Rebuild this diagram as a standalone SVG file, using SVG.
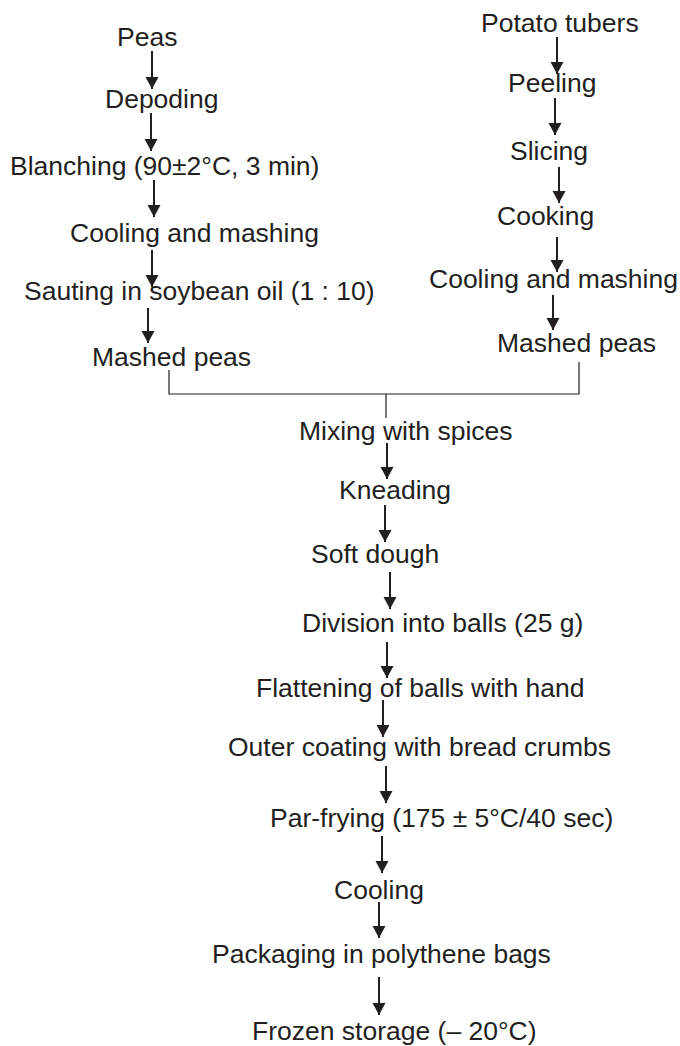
<svg xmlns="http://www.w3.org/2000/svg" width="680" height="1046" viewBox="0 0 680 1046">
<style>
text{font-family:"Liberation Sans",Arial,sans-serif;font-size:26.5px;fill:#231f20}
.a{stroke:#231f20;stroke-width:2;fill:none}
.b{stroke:#231f20;stroke-width:1.2;fill:none}
</style>
<defs>
<marker id="ah" markerUnits="userSpaceOnUse" markerWidth="14" markerHeight="14" refX="12" refY="6.5" orient="auto">
<path d="M0,0 L12,6.5 L0,13 z" fill="#231f20"/>
</marker>
</defs>
<rect width="680" height="1046" fill="#fff"/>
<g id="connectors">
<line class="a" x1="152" y1="51" x2="152" y2="89" marker-end="url(#ah)"/>
<line class="a" x1="151" y1="113" x2="151" y2="151" marker-end="url(#ah)"/>
<line class="a" x1="154" y1="180" x2="154" y2="217" marker-end="url(#ah)"/>
<line class="a" x1="152" y1="250" x2="152" y2="287" marker-end="url(#ah)"/>
<line class="a" x1="148" y1="308" x2="148" y2="343" marker-end="url(#ah)"/>
<line class="a" x1="557" y1="37" x2="557" y2="74" marker-end="url(#ah)"/>
<line class="a" x1="555" y1="98" x2="555" y2="135" marker-end="url(#ah)"/>
<line class="a" x1="559" y1="167" x2="559" y2="203" marker-end="url(#ah)"/>
<line class="a" x1="557" y1="237" x2="557" y2="272" marker-end="url(#ah)"/>
<line class="a" x1="553" y1="295" x2="553" y2="330" marker-end="url(#ah)"/>
<polyline class="b" points="169,370 169,394 579,394 579,362"/>
<line class="b" x1="386" y1="394" x2="386" y2="418"/>
<line class="a" x1="387" y1="443" x2="387" y2="479" marker-end="url(#ah)"/>
<line class="a" x1="385" y1="505" x2="385" y2="542" marker-end="url(#ah)"/>
<line class="a" x1="390" y1="572" x2="390" y2="609" marker-end="url(#ah)"/>
<line class="a" x1="387" y1="642" x2="387" y2="678" marker-end="url(#ah)"/>
<line class="a" x1="383" y1="700" x2="383" y2="737" marker-end="url(#ah)"/>
<line class="a" x1="386" y1="766" x2="386" y2="803" marker-end="url(#ah)"/>
<line class="a" x1="382" y1="836" x2="382" y2="873" marker-end="url(#ah)"/>
<line class="a" x1="379" y1="902" x2="379" y2="938" marker-end="url(#ah)"/>
<line class="a" x1="379" y1="977" x2="379" y2="1015" marker-end="url(#ah)"/>
</g>
<g id="peas"><text x="117" y="46">Peas</text></g>
<g id="depoding"><text x="105" y="108">Depoding</text></g>
<g id="blanching"><text x="10" y="175">Blanching (90±2°C, 3 min)</text></g>
<g id="cooling-mashing-left"><text x="70" y="242">Cooling and mashing</text></g>
<g id="sauting"><text x="24" y="300">Sauting in soybean oil (1 : 10)</text></g>
<g id="mashed-peas-left"><text x="92" y="366">Mashed peas</text></g>
<g id="potato"><text x="481" y="32">Potato tubers</text></g>
<g id="peeling"><text x="508" y="92">Peeling</text></g>
<g id="slicing"><text x="510" y="160">Slicing</text></g>
<g id="cooking"><text x="497" y="225">Cooking</text></g>
<g id="cooling-mashing-right"><text x="429" y="288">Cooling and mashing</text></g>
<g id="mashed-peas-right"><text x="497" y="352">Mashed peas</text></g>
<g id="mixing"><text x="299" y="440">Mixing with spices</text></g>
<g id="kneading"><text x="339" y="499">Kneading</text></g>
<g id="soft-dough"><text x="311" y="563">Soft dough</text></g>
<g id="division"><text x="302" y="632">Division into balls (25 g)</text></g>
<g id="flattening"><text x="256" y="697">Flattening of balls with hand</text></g>
<g id="coating"><text x="228" y="756">Outer coating with bread crumbs</text></g>
<g id="par-frying"><text x="270" y="827">Par-frying (175 ± 5°C/40 sec)</text></g>
<g id="cooling"><text x="334" y="899">Cooling</text></g>
<g id="packaging"><text x="212" y="963">Packaging in polythene bags</text></g>
<g id="frozen"><text x="252" y="1040">Frozen storage (– 20°C)</text></g>
</svg>
